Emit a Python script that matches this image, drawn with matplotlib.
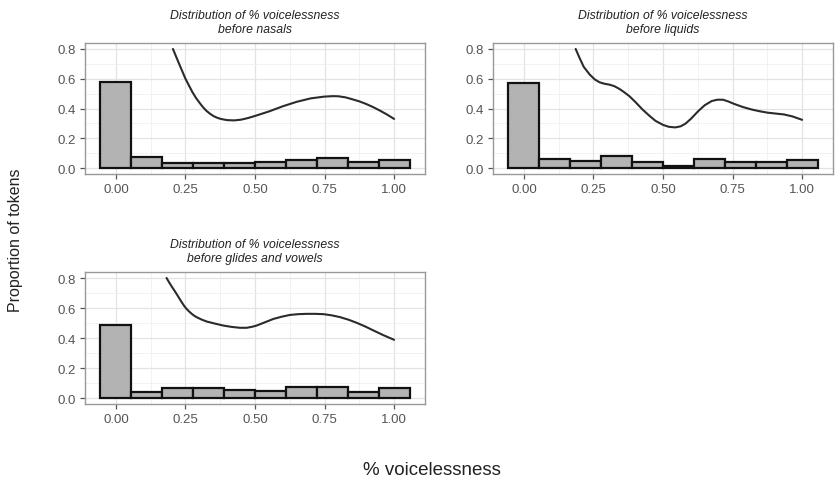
import matplotlib
matplotlib.use("Agg")
import matplotlib.pyplot as plt
from matplotlib.ticker import MultipleLocator

plt.rcParams['font.family'] = ['Liberation Sans', 'DejaVu Sans']

# ---- data ----
titles = [
    "Distribution of % voicelessness\nbefore nasals",
    "Distribution of % voicelessness\nbefore liquids",
    "Distribution of % voicelessness\nbefore glides and vowels",
]
bin_centers = [0/9, 1/9, 2/9, 3/9, 4/9, 5/9, 6/9, 7/9, 8/9, 9/9]
bars_nasals = [0.578, 0.072, 0.036, 0.034, 0.034, 0.042, 0.053, 0.070, 0.042, 0.053]
bars_liquids = [0.572, 0.060, 0.049, 0.084, 0.042, 0.015, 0.062, 0.042, 0.038, 0.053]
bars_glides = [0.487, 0.042, 0.069, 0.066, 0.055, 0.044, 0.071, 0.073, 0.042, 0.069]

curve_nasals_x = [0.205, 0.215, 0.225, 0.2375, 0.25, 0.2625, 0.275, 0.2875, 0.30, 0.3125,
                  0.325, 0.3375, 0.35, 0.3625, 0.375, 0.3875, 0.40, 0.425, 0.45, 0.475,
                  0.50, 0.55, 0.60, 0.65, 0.70, 0.75, 0.78, 0.80, 0.825, 0.85, 0.875,
                  0.90, 0.925, 0.95, 0.975, 1.00]
curve_nasals_y = [0.80, 0.755, 0.71, 0.655, 0.60, 0.555, 0.51, 0.472, 0.44, 0.41,
                  0.385, 0.366, 0.35, 0.339, 0.331, 0.326, 0.322, 0.320, 0.325, 0.336,
                  0.350, 0.380, 0.415, 0.445, 0.468, 0.480, 0.483, 0.482, 0.475, 0.462, 0.448,
                  0.430, 0.409, 0.385, 0.359, 0.330]

curve_liquids_x = [0.186, 0.20, 0.215, 0.237, 0.255, 0.272, 0.29, 0.308, 0.325, 0.343,
                   0.36, 0.379, 0.40, 0.426, 0.45, 0.473, 0.50, 0.521, 0.544, 0.563,
                   0.58, 0.60, 0.627, 0.65, 0.675, 0.695, 0.716, 0.735, 0.757, 0.787,
                   0.817, 0.846, 0.876, 0.905, 0.935, 0.965, 1.00]
curve_liquids_y = [0.80, 0.74, 0.68, 0.627, 0.595, 0.576, 0.566, 0.560, 0.550, 0.532,
                   0.51, 0.483, 0.445, 0.394, 0.353, 0.317, 0.290, 0.277, 0.273, 0.280,
                   0.297, 0.330, 0.383, 0.422, 0.450, 0.459, 0.459, 0.447, 0.430, 0.410,
                   0.394, 0.382, 0.372, 0.366, 0.360, 0.347, 0.324]

curve_glides_x = [0.182, 0.191, 0.20, 0.209, 0.218, 0.227, 0.236, 0.245, 0.254, 0.263,
                  0.272, 0.281, 0.29, 0.308, 0.326, 0.356, 0.386, 0.416, 0.446, 0.47,
                  0.49, 0.506, 0.536, 0.566, 0.596, 0.626, 0.656, 0.686, 0.716, 0.746,
                  0.776, 0.806, 0.836, 0.866, 0.896, 0.926, 0.96, 1.00]
curve_glides_y = [0.80, 0.772, 0.745, 0.72, 0.694, 0.667, 0.640, 0.615, 0.594, 0.577,
                  0.562, 0.549, 0.539, 0.523, 0.51, 0.496, 0.483, 0.474, 0.468, 0.468,
                  0.475, 0.483, 0.505, 0.527, 0.542, 0.554, 0.559, 0.561, 0.561, 0.559,
                  0.551, 0.539, 0.522, 0.501, 0.477, 0.450, 0.420, 0.388]

x_ticks = [0.0, 0.25, 0.5, 0.75, 1.0]
x_ticklabels = ["0.00", "0.25", "0.50", "0.75", "1.00"]
y_ticks = [0.0, 0.2, 0.4, 0.6, 0.8]
y_ticklabels = ["0.0", "0.2", "0.4", "0.6", "0.8"]

panels = [
    (titles[0], bars_nasals, curve_nasals_x, curve_nasals_y),
    (titles[1], bars_liquids, curve_liquids_x, curve_liquids_y),
    (titles[2], bars_glides, curve_glides_x, curve_glides_y),
]

# ---- layout ----
fig = plt.figure(figsize=(8.4, 4.85), dpi=100)
W, H = 840, 485
rects = [
    (85, 44, 340, 131),
    (493, 44, 340, 131),
    (85, 273, 340, 132),
]

binw = 1 / 9
for (title, bars, cx, cy), (l, t, w, h) in zip(panels, rects):
    ax = fig.add_axes([l / W, 1 - (t + h) / H, w / W, h / H])
    ax.set_xlim(-0.1111, 1.1111)
    ax.set_ylim(-0.04, 0.84)
    ax.set_axisbelow(True)
    ax.xaxis.set_minor_locator(MultipleLocator(0.125))
    ax.yaxis.set_minor_locator(MultipleLocator(0.1))
    ax.grid(which='major', color='#e3e3e3', linewidth=0.9)
    ax.grid(which='minor', color='#f0f0f0', linewidth=0.6)
    ax.bar(bin_centers, bars, width=binw, color='#b3b3b3', edgecolor='#111111',
           linewidth=1.6, zorder=2)
    ax.plot(cx, cy, color='#2b2b2b', linewidth=1.5, zorder=3, solid_capstyle='round',
            solid_joinstyle='round')
    ax.set_xticks(x_ticks)
    ax.set_xticklabels(x_ticklabels)
    ax.set_yticks(y_ticks)
    ax.set_yticklabels(y_ticklabels)
    ax.tick_params(which='major', length=3.5, width=0.9, color='#555555',
                   labelcolor='#555555', labelsize=9.5, pad=3)
    ax.tick_params(which='minor', length=0)
    for s in ax.spines.values():
        s.set_color('#999999')
        s.set_linewidth(1.0)
    ax.set_title(title, fontsize=8.8, style='italic', color='#222222', pad=8,
                 linespacing=1.25)

fig.text(16 / W, 1 - 240 / H, "Proportion of tokens", rotation=90, ha='center',
         va='center', fontsize=11.5, color='#222222')
fig.text(432 / W, 1 - 471 / H, "% voicelessness", ha='center', va='center',
         fontsize=13.5, color='#222222')

fig.savefig("out.png", dpi=100, facecolor='white')
